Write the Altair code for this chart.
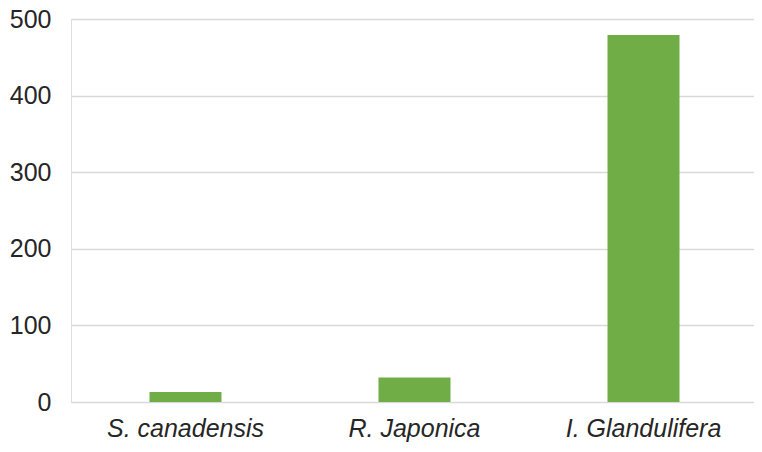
import altair as alt
import pandas as pd

categories = ["S. canadensis", "R. Japonica", "I. Glandulifera"]
values = [13, 32, 479]
y_ticks = [0, 100, 200, 300, 400, 500]

df = pd.DataFrame({"species": categories, "value": values})

chart = alt.Chart(df).mark_bar(color="#70AD47").encode(
    x=alt.X("species:N", sort=categories, title=None,
            scale=alt.Scale(paddingInner=0.6856, paddingOuter=0.334, align=0.513),
            axis=alt.Axis(labelAngle=0, labelFontStyle="italic", labelFontSize=25,
                          labelFont="Liberation Sans", labelColor="#262626",
                          labelPadding=14, ticks=False, domain=False, grid=False)),
    y=alt.Y("value:Q", title=None,
            scale=alt.Scale(domain=[0, 500], nice=False),
            axis=alt.Axis(values=y_ticks, labelFontSize=25, labelFont="Liberation Sans",
                          labelColor="#262626", labelPadding=20, ticks=False, domain=False,
                          grid=True, gridColor="#D9D9D9", gridWidth=1.6)),
).properties(
    width=683, height=383,
    autosize=alt.AutoSizeParams(type="none"),
    padding={"left": 63, "top": 11, "right": 0, "bottom": 42},
).configure_view(stroke=None).configure(background="white")

chart.save("out.html", embed_options={"renderer": "svg", "actions": False})
